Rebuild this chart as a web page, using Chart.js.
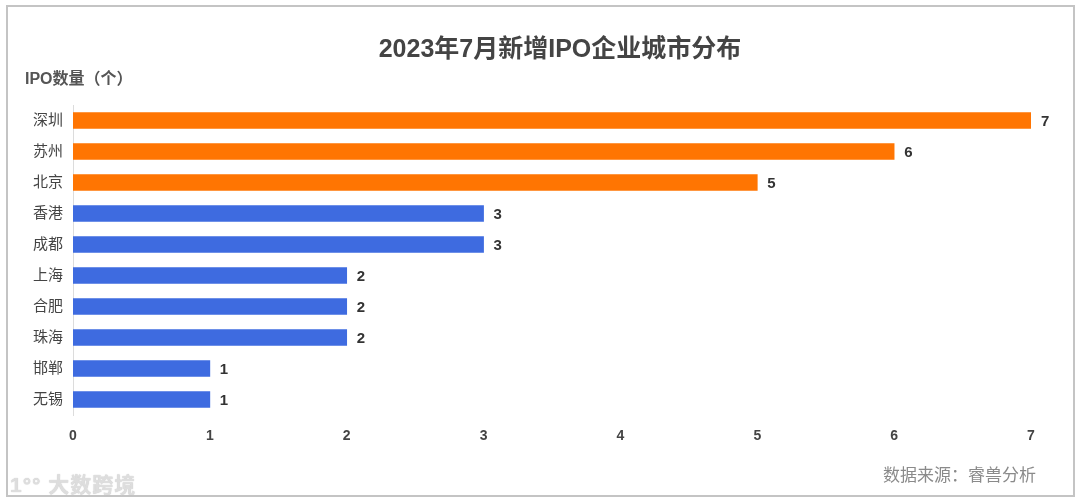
<!DOCTYPE html>
<html>
<head>
<meta charset="utf-8">
<script src="https://cdn.jsdelivr.net/npm/chart.js@4.4.0/dist/chart.umd.min.js"></script>
<style>
  html, body { margin: 0; padding: 0; background: #fff; }
  body { width: 1080px; height: 502px; position: relative; overflow: hidden;
         font-family: "Liberation Sans", "Noto Sans CJK SC", sans-serif; }
  #frame { position: absolute; left: 6px; top: 5px; width: 1065px; height: 488px;
           border: 2px solid #c4c4c4; box-sizing: content-box; }
  #wrap { position: absolute; left: 0; top: 0; width: 1080px; height: 502px; }
  .txt { position: absolute; white-space: nowrap; }
  #title { left: 560px; top: 28px; transform: translateX(-50%); font-size: 25px; font-weight: bold; color: #444; }
  #unit { left: 25px; top: 65px; font-size: 16px; font-weight: bold; color: #555; }
  #source { left: 883px; top: 461px; font-size: 17px; color: #8a8a8a; }
  #mark { left: 10px; top: 468px; font-size: 21px; font-weight: bold; color: rgba(225,225,225,0.9);
          text-shadow: 0 0 1px #bbb; letter-spacing: 1px; }
</style>
</head>
<body>
<div id="frame"></div>
<div id="wrap"><canvas id="chart" width="1080" height="502"></canvas></div>
<div class="txt" id="title">2023年7月新增IPO企业城市分布</div>
<div class="txt" id="unit">IPO数量（个）</div>
<div class="txt" id="source">数据来源：睿兽分析</div>
<div class="txt" id="mark">1°° 大数跨境</div>
<script>
  // Chart data
  const cities = ['深圳', '苏州', '北京', '香港', '成都', '上海', '合肥', '珠海', '邯郸', '无锡'];
  const ipoCounts = [7, 6, 5, 3, 3, 2, 2, 2, 1, 1];
  const xTicks = [0, 1, 2, 3, 4, 5, 6, 7];
  const topCities = 3;

  const FONT = '"Liberation Sans", "Noto Sans CJK SC", sans-serif';
  const ORANGE = '#ff7502';
  const BLUE = '#3e6be0';

  // Draw the value next to each bar
  const valueLabels = {
    id: 'valueLabels',
    afterDatasetsDraw(chart) {
      const ctx = chart.ctx;
      const meta = chart.getDatasetMeta(0);
      ctx.save();
      ctx.font = 'bold 15px ' + FONT;
      ctx.fillStyle = '#333';
      ctx.textAlign = 'left';
      ctx.textBaseline = 'middle';
      meta.data.forEach((bar, i) => {
        ctx.fillText(String(ipoCounts[i]), bar.x + 10, bar.y + 1);
      });
      ctx.restore();
    }
  };

  new Chart(document.getElementById('chart').getContext('2d'), {
    type: 'bar',
    data: {
      labels: cities,
      datasets: [{
        data: ipoCounts,
        backgroundColor: (c) => (c.dataIndex < topCities ? ORANGE : BLUE),
        borderWidth: 0,
        barThickness: 16
      }]
    },
    options: {
      indexAxis: 'y',
      responsive: false,
      animation: false,
      layout: { padding: { top: 105, right: 49, left: 0, bottom: 0 } },
      plugins: {
        legend: { display: false },
        title: { display: false },
        tooltip: { enabled: false }
      },
      scales: {
        x: {
          min: 0,
          max: 7,
          afterFit(scale) { scale.height = 87; },
          afterBuildTicks(scale) { scale.ticks = xTicks.map(v => ({ value: v })); },
          grid: { display: false, drawTicks: false },
          border: { display: false },
          ticks: {
            padding: 13,
            color: '#444',
            font: { family: FONT, size: 14, weight: 'bold' }
          }
        },
        y: {
          afterFit(scale) { scale.width = 73; },
          grid: { display: false, drawTicks: false },
          border: { display: true, color: '#dcdcdc', width: 1 },
          ticks: {
            padding: 10,
            color: '#444',
            font: { family: FONT, size: 15 }
          }
        }
      }
    },
    plugins: [valueLabels]
  });
</script>
</body>
</html>
